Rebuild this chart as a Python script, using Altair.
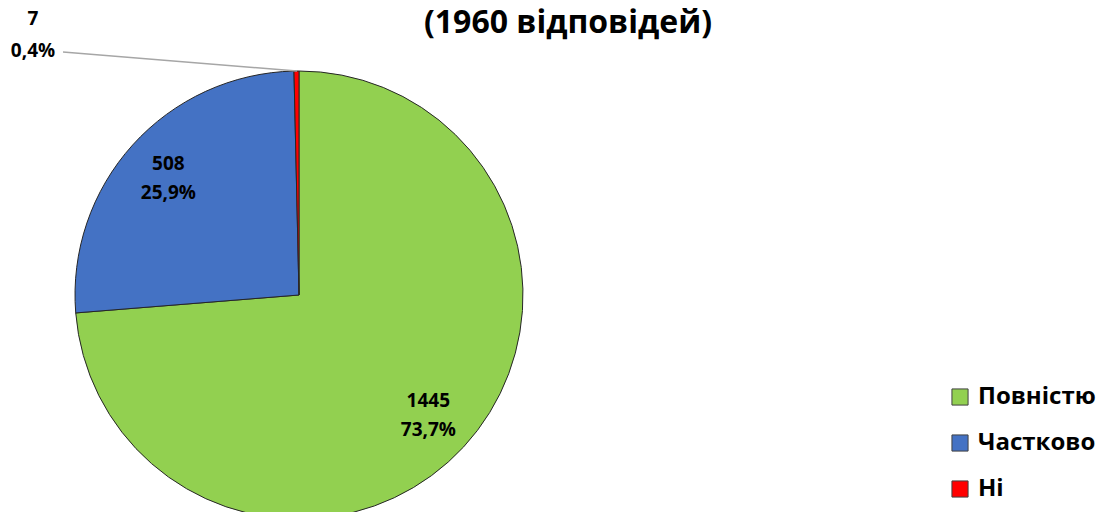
import altair as alt
import pandas as pd

categories = ["Повністю", "Частково", "Ні"]
counts = [1445, 508, 7]
percents = ["73,7%", "25,9%", "0,4%"]
colors = ["#92D050", "#4472C4", "#FF0000"]
title_text = "(1960 відповідей)"

df = pd.DataFrame({
    "cat": categories,
    "value": counts,
    "pct": percents,
    "idx": list(range(len(categories))),
})
df["label"] = df["value"].astype(str) + "\n" + df["pct"]

FONT = "Open Sans"
CX, CY, R = 291, 287, 224

theta = alt.Theta("value:Q", stack=True)
order = alt.Order("idx:O")

pie = alt.Chart(df).mark_arc(
    outerRadius=R, stroke="#262626", strokeWidth=1
).encode(
    theta=theta,
    order=order,
    x=alt.value(CX), y=alt.value(CY),
    color=alt.Color(
        "cat:N",
        scale=alt.Scale(domain=categories, range=colors),
        sort=categories,
        legend=alt.Legend(
            title=None, orient="none", legendX=940, legendY=377,
            symbolType="square", symbolSize=260, symbolStrokeColor="#404040",
            symbolStrokeWidth=1, labelFont=FONT, labelFontSize=24,
            labelFontWeight="bold", labelColor="black", rowPadding=22,
            labelOffset=6, labelLimit=300,
        ),
    ),
)

big = df[df["value"] > 50]
small = df[df["value"] <= 50]

labels_big = alt.Chart(big).mark_text(
    radius=176, font=FONT, fontSize=19, fontWeight="bold", color="black",
    lineBreak="\n", lineHeight=29, baseline="middle", align="center", dy=-13,
).encode(
    theta=alt.Theta("value:Q", stack=True, scale=alt.Scale(domain=[0, sum(counts)])),
    order=order,
    x=alt.value(CX), y=alt.value(CY),
    text="label:N",
)

cum_before = sum(counts[:-1])
small_df = small.copy()
small_df["start"] = cum_before
small_df["end"] = cum_before + small_df["value"]

labels_small = alt.Chart(small_df).mark_text(
    radius=R, font=FONT, fontSize=19, fontWeight="bold", color="black",
    lineBreak="\n", lineHeight=32, baseline="middle", align="center",
    dx=-261, dy=-52,
).encode(
    theta=alt.Theta("start:Q", scale=alt.Scale(domain=[0, sum(counts)])),
    theta2="end:Q",
    x=alt.value(CX), y=alt.value(CY),
    text="label:N",
)

leader = alt.Chart(small_df).mark_rule(color="#A6A6A6", strokeWidth=1.5).encode(
    x=alt.value(55), y=alt.value(44), x2=alt.value(289), y2=alt.value(63)
)

title = alt.Chart(pd.DataFrame({"t": [title_text]})).mark_text(
    font=FONT, fontSize=32, fontWeight="bold", color="black",
    align="center", baseline="middle",
).encode(x=alt.value(560), y=alt.value(15), text="t:N")

chart = alt.layer(pie, labels_big, labels_small, leader, title).properties(
    width=1096, height=504,
    autosize=alt.AutoSizeParams(type="none"),
    padding=0,
).configure_view(stroke=None)

chart.save("out.html", embed_options={"renderer": "svg", "actions": False})
